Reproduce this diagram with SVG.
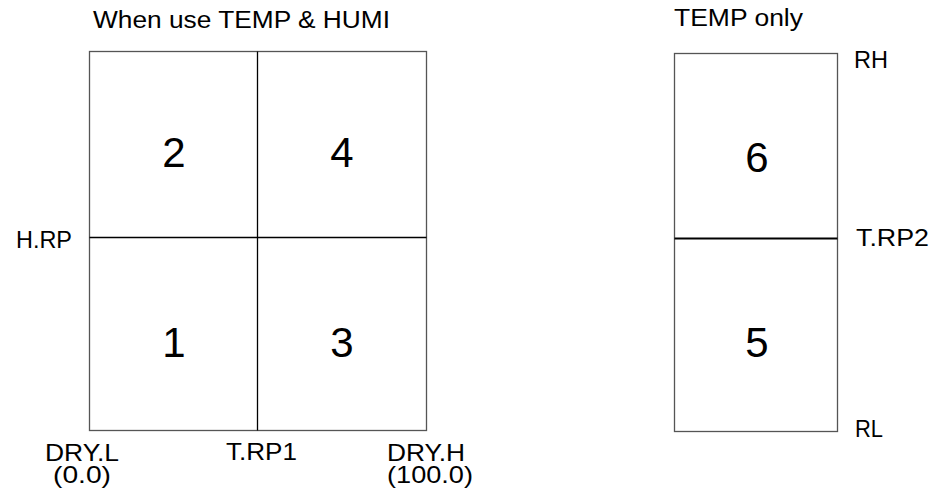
<svg xmlns="http://www.w3.org/2000/svg" width="933" height="495" viewBox="0 0 933 495">
<style>
.t{font-family:"Liberation Sans",Arial,sans-serif;fill:#000}
.lbl{font-size:24px}
.ttl{font-size:23px}
.num{font-size:42px;text-anchor:middle}
.box{fill:none;stroke:#555;stroke-width:1.3}
.ln{stroke:#000;stroke-width:1.3}
</style>
<rect width="933" height="495" fill="#fff"/>
<text class="t ttl" x="93" y="28" textLength="297" lengthAdjust="spacingAndGlyphs">When use TEMP &amp; HUMI</text>
<text class="t ttl" x="674" y="26" textLength="129" lengthAdjust="spacingAndGlyphs">TEMP only</text>
<g id="left-chart">
<rect class="box" x="89.5" y="51.5" width="337" height="379"/>
</g>
<g id="right-chart">
<rect class="box" x="674.5" y="53.5" width="163" height="378"/>
</g>
<g id="connectors">
<line class="ln" x1="257.5" y1="51.5" x2="257.5" y2="430.5"/>
<line class="ln" x1="89.5" y1="237.5" x2="426.5" y2="237.5"/>
<line class="ln" x1="674.5" y1="238.5" x2="837.5" y2="238.5" style="stroke-width:2"/>
</g>
<g id="zone1"><text class="t num" x="174" y="357">1</text></g>
<g id="zone2"><text class="t num" x="174" y="167">2</text></g>
<g id="zone3"><text class="t num" x="342" y="357">3</text></g>
<g id="zone4"><text class="t num" x="342" y="167">4</text></g>
<g id="zone5"><text class="t num" x="757" y="357">5</text></g>
<g id="zone6"><text class="t num" x="757" y="172">6</text></g>
<g id="labels">
<text class="t lbl" x="16" y="248" textLength="56" lengthAdjust="spacingAndGlyphs">H.RP</text>
<text class="t lbl" x="45" y="461" textLength="74" lengthAdjust="spacingAndGlyphs">DRY.L</text>
<text class="t lbl" x="53" y="483" textLength="58" lengthAdjust="spacingAndGlyphs">(0.0)</text>
<text class="t lbl" x="226" y="460" textLength="71" lengthAdjust="spacingAndGlyphs">T.RP1</text>
<text class="t lbl" x="387" y="461" textLength="78" lengthAdjust="spacingAndGlyphs">DRY.H</text>
<text class="t lbl" x="387" y="483" textLength="86" lengthAdjust="spacingAndGlyphs">(100.0)</text>
<text class="t lbl" x="854" y="68" textLength="34" lengthAdjust="spacingAndGlyphs">RH</text>
<text class="t lbl" x="856" y="246" textLength="73" lengthAdjust="spacingAndGlyphs">T.RP2</text>
<text class="t lbl" x="855" y="437" textLength="28" lengthAdjust="spacingAndGlyphs">RL</text>
</g>
</svg>
